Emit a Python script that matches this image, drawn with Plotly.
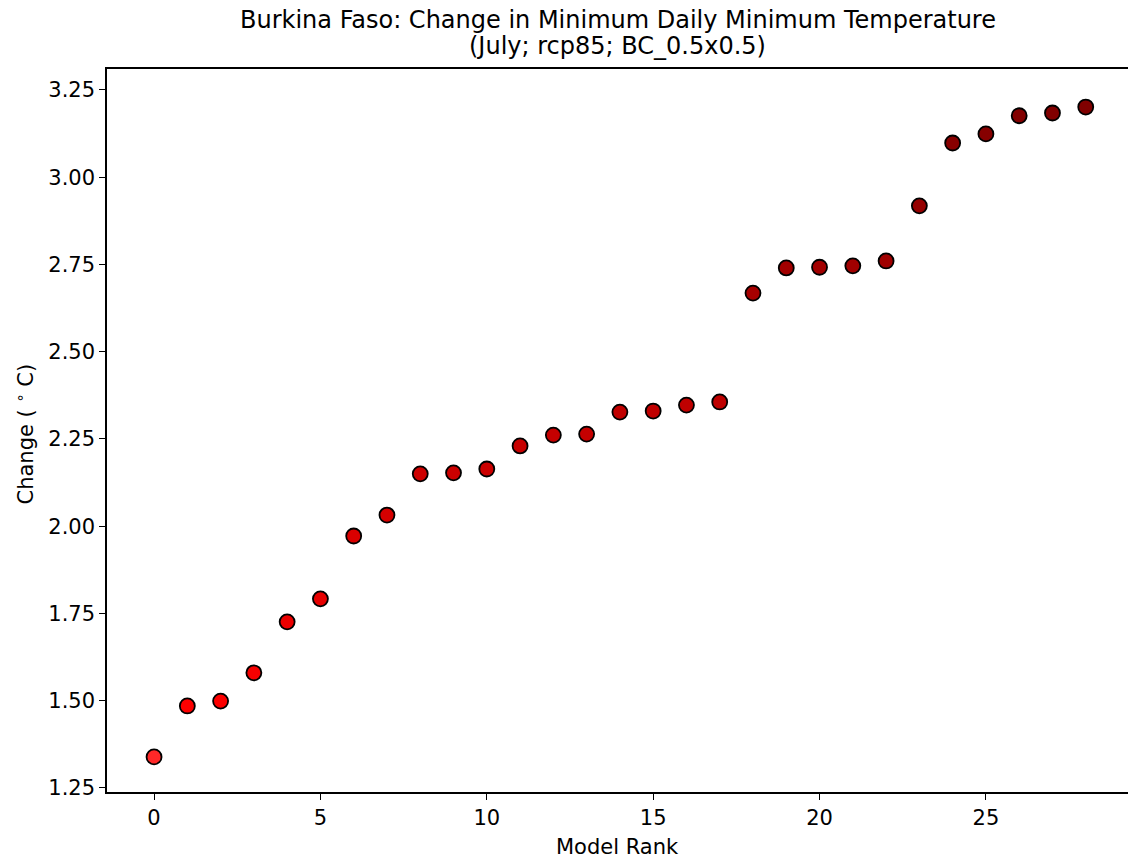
import plotly.graph_objects as go

# Data
model_rank = list(range(29))
change_c = [1.339, 1.485, 1.499, 1.580, 1.726, 1.792, 1.972, 2.032, 2.150, 2.153,
            2.164, 2.230, 2.261, 2.264, 2.327, 2.330, 2.347, 2.356, 2.668, 2.740,
            2.742, 2.746, 2.760, 2.918, 3.098, 3.124, 3.176, 3.184, 3.201]
x_ticks = [0, 5, 10, 15, 20, 25]
y_ticks = [1.25, 1.50, 1.75, 2.00, 2.25, 2.50, 2.75, 3.00, 3.25]
y_tick_text = ["%.2f" % v for v in y_ticks]

title_line1 = "Burkina Faso: Change in Minimum Daily Minimum Temperature"
title_line2 = "(July; rcp85; BC_0.5x0.5)"
x_title = "Model Rank"
y_title = "Change ( <sup>\u2218</sup> C)"

FONT = "DejaVu Sans"
FS = 21
FS_TITLE = 24

fig = go.Figure()
fig.add_trace(go.Scatter(
    x=model_rank, y=change_c, mode="markers",
    marker=dict(
        size=15,
        color=change_c,
        cmin=min(change_c), cmax=max(change_c),
        colorscale=[[0, "#ff2828"], [0.07, "#ff0000"], [1, "#800000"]],
        line=dict(color="black", width=1.8),
    ),
    showlegend=False,
))

fig.update_layout(
    width=1128, height=861,
    margin=dict(l=107, r=0, t=69, b=69),
    paper_bgcolor="white", plot_bgcolor="white",
    font=dict(family=FONT, size=FS, color="black"),
)
fig.update_xaxes(
    range=[-1.414, 29.27], tickvals=x_ticks, ticks="outside", ticklen=6, tickwidth=1.3,
    tickcolor="black", showline=True, linecolor="black", linewidth=1.5, mirror=True,
    showgrid=False, zeroline=False, tickfont=dict(size=FS),
)
fig.update_yaxes(
    range=[1.2385, 3.310], tickvals=y_ticks, ticktext=y_tick_text, ticks="outside",
    ticklen=6, tickwidth=1.3, tickcolor="black", showline=True, linecolor="black",
    linewidth=1.5, mirror=False, showgrid=False, zeroline=False, tickfont=dict(size=FS),
)

fig.add_annotation(text=title_line1, xref="paper", yref="paper", x=0.5, y=1,
                   xanchor="center", yanchor="middle", yshift=49, showarrow=False,
                   font=dict(size=FS_TITLE, family=FONT))
fig.add_annotation(text=title_line2, xref="paper", yref="paper", x=0.5, y=1,
                   xanchor="center", yanchor="middle", yshift=23, showarrow=False,
                   font=dict(size=FS_TITLE, family=FONT))
fig.add_annotation(text=x_title, xref="paper", yref="paper", x=0.5, y=0,
                   xanchor="center", yanchor="middle", yshift=-55, showarrow=False,
                   font=dict(size=FS, family=FONT))
fig.add_annotation(text=y_title, xref="paper", yref="paper", x=0, y=0.5,
                   xanchor="center", yanchor="middle", xshift=-83, yshift=-4,
                   textangle=-90, showarrow=False, font=dict(size=FS, family=FONT))

fig.write_html("out.html", config={"displayModeBar": False},
               post_script="document.body.style.margin='0';")
